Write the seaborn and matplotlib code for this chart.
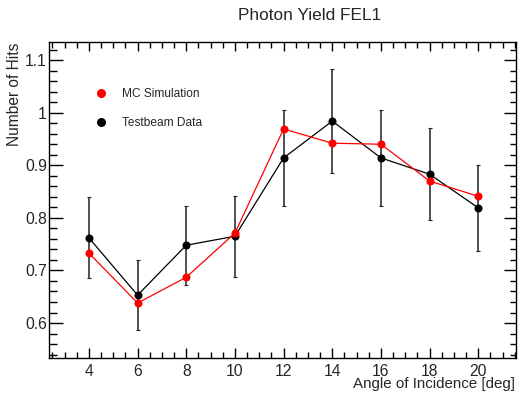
import numpy as np
import pandas as pd
import seaborn as sns
import matplotlib.pyplot as plt
from matplotlib.lines import Line2D

angles = [4, 6, 8, 10, 12, 14, 16, 18, 20]
mc_sim = [0.733, 0.638, 0.687, 0.771, 0.969, 0.942, 0.940, 0.870, 0.841]
testbeam = [0.762, 0.653, 0.748, 0.765, 0.914, 0.984, 0.914, 0.883, 0.819]
testbeam_err = [0.077, 0.066, 0.075, 0.077, 0.092, 0.099, 0.092, 0.088, 0.082]
y_ticks = [0.6, 0.7, 0.8, 0.9, 1.0, 1.1]
y_tick_labels = ["0.6", "0.7", "0.8", "0.9", "1", "1.1"]

df = pd.DataFrame({"angle": angles, "mc": mc_sim, "data": testbeam, "err": testbeam_err})

sns.set_style("ticks")
plt.rcParams["font.family"] = ["Liberation Sans", "DejaVu Sans"]

fig = plt.figure(figsize=(5.18, 3.94), dpi=100)
ax = fig.add_axes([49 / 518, 36 / 394, 467 / 518, 316.3 / 394])

ax.errorbar(df["angle"], df["data"], yerr=df["err"], fmt="none", ecolor="#222222",
            elinewidth=1.1, capsize=1.5, capthick=0.8, zorder=2)
sns.lineplot(data=df, x="angle", y="data", color="black", marker="o", markersize=5.8,
             markeredgewidth=0, linewidth=0.9, ax=ax, zorder=3)
sns.lineplot(data=df, x="angle", y="mc", color="red", marker="o", markersize=5.8,
             markeredgewidth=0, linewidth=0.9, ax=ax, zorder=4)

ax.set_xlim(2.36, 21.55)
ax.set_ylim(0.5335, 1.135)

# ROOT-style ticks: every small step gets a tick, only the round values get a label
x_locs = [round(v, 2) for v in np.arange(2.5, 21.6, 0.5)]
x_labels = [str(int(v)) if v in angles else "" for v in x_locs]
y_locs = [round(v, 2) for v in np.arange(0.54, 1.135, 0.02)]
y_labels = [y_tick_labels[y_ticks.index(v)] if v in y_ticks else "" for v in y_locs]
ax.set_xticks(x_locs, x_labels)
ax.set_yticks(y_locs, y_labels)
ax.tick_params(which="both", direction="in", top=True, right=True, width=1.0,
               color="black", labelsize=11.3)
ax.tick_params(axis="y", length=10, pad=1.5)
ax.tick_params(axis="x", length=7, pad=4)

for tick, v in zip(ax.xaxis.get_major_ticks(len(x_locs)), x_locs):
    if v not in angles:
        tick.tick1line.set_markersize(4)
        tick.tick2line.set_markersize(4)
    else:
        tick.tick2line.set_markersize(6.5)
for tick, v in zip(ax.yaxis.get_major_ticks(len(y_locs)), y_locs):
    if v not in y_ticks:
        tick.tick1line.set_markersize(5.5)
        tick.tick2line.set_markersize(4.5)
    else:
        tick.tick2line.set_markersize(9)

for s in ax.spines.values():
    s.set_linewidth(1.0)
    s.set_color("black")

ax.set_xlabel("")
ax.set_ylabel("")
fig.text(515 / 518, 1 - 384 / 394, "Angle of Incidence [deg]", ha="right", va="center", fontsize=10.9)
fig.text(15 / 518, 1 - 43 / 394, "Number of Hits", rotation=90, ha="center", va="top", fontsize=11.2)
fig.text(310 / 518, 1 - 16 / 394, "Photon Yield FEL1", ha="center", va="center", fontsize=12.4)

handles = [
    Line2D([], [], color="red", marker="o", linestyle="none", markersize=6.5, markeredgewidth=0),
    Line2D([], [], color="black", marker="o", linestyle="none", markersize=6.5, markeredgewidth=0),
]
ax.legend(handles, ["MC Simulation", "Testbeam Data"], loc="upper left",
          bbox_to_anchor=(90 / 518, 1 - 83 / 394), bbox_transform=fig.transFigure,
          frameon=False, fontsize=8.6, labelspacing=1.42, handletextpad=1.25,
          handlelength=1.0, borderaxespad=0)

fig.savefig("out.png", dpi=100)
